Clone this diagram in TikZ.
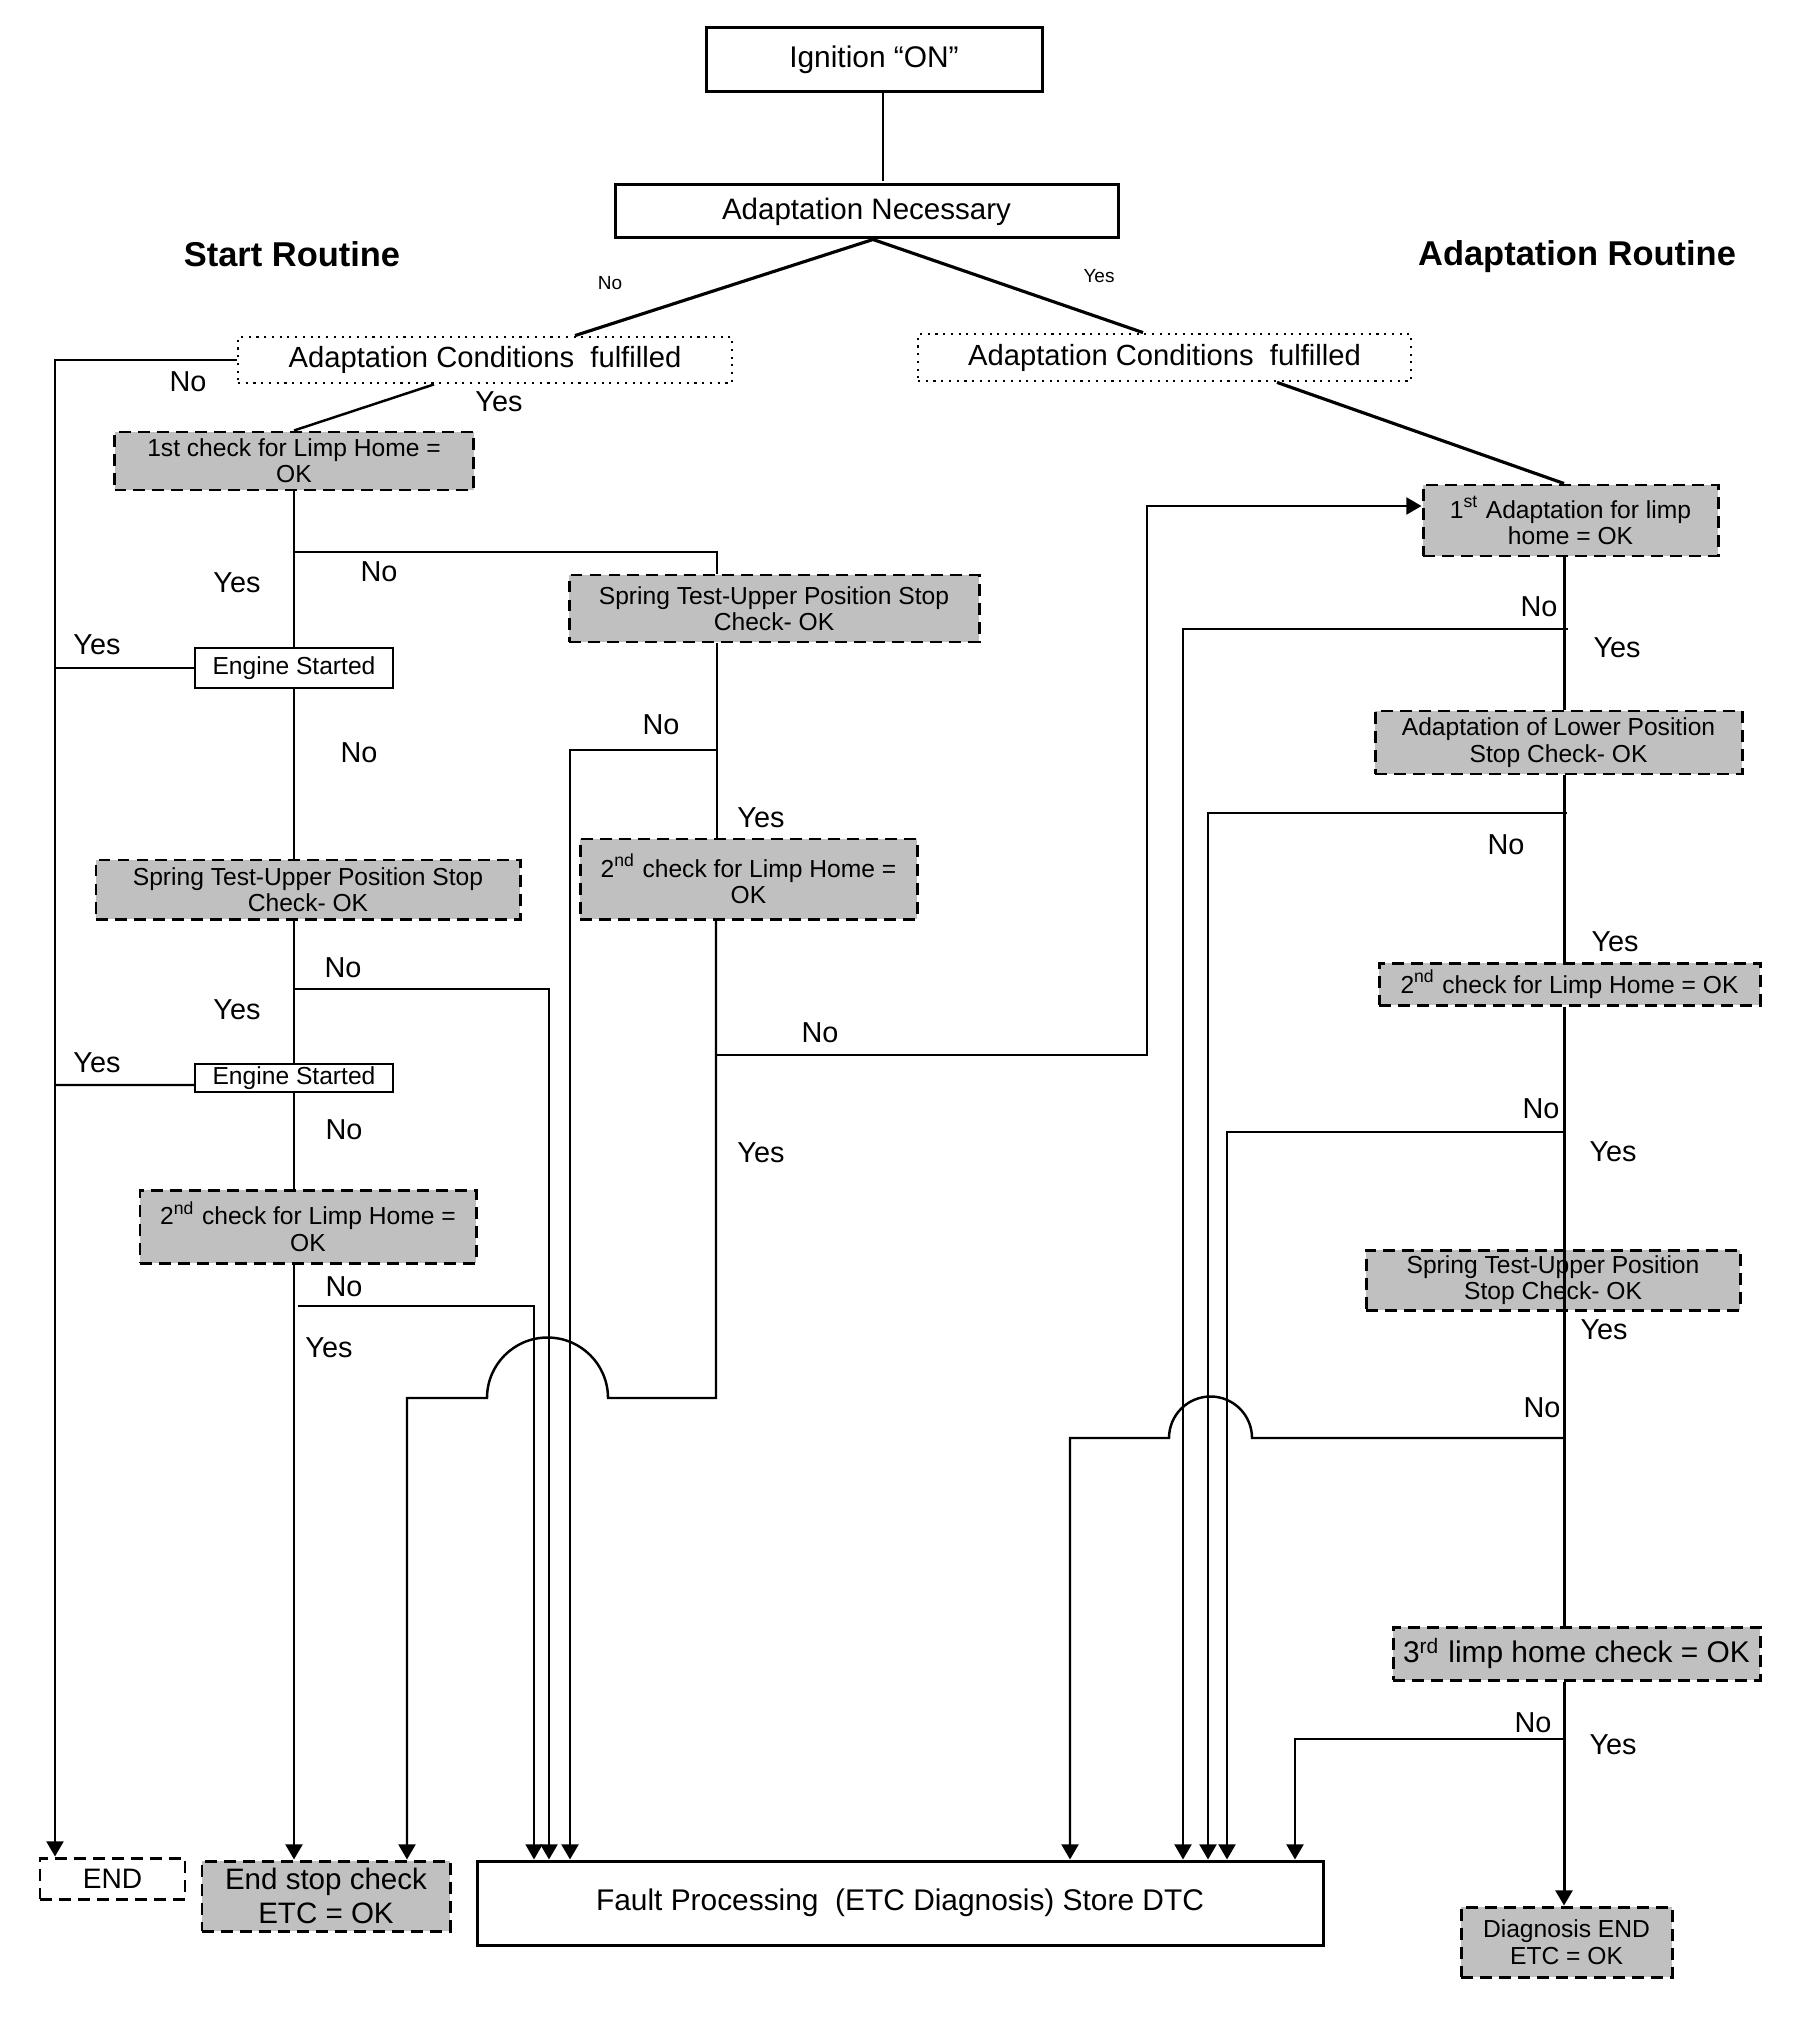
\documentclass[tikz,border=0pt]{standalone}
\usepackage{fontspec}
\setmainfont{Liberation Sans}
\usetikzlibrary{arrows.meta,calc}
\definecolor{boxgray}{HTML}{C0C0C0}
\newcommand\fsBig{\fontsize{8.5pt}{9pt}\selectfont}
\newcommand\fsAdn{\fontsize{8.4pt}{9pt}\selectfont}
\newcommand\fsCond{\fontsize{8.3pt}{9pt}\selectfont}
\newcommand\fsBox{\fontsize{7pt}{7.5pt}\selectfont}
\newcommand\fsEsc{\fontsize{8.4pt}{9.6pt}\selectfont}
\newcommand\fsEnd{\fontsize{8pt}{9pt}\selectfont}
\newcommand\fsLab{\fontsize{8.2pt}{9pt}\selectfont}
\newcommand\fsSmall{\fontsize{5.4pt}{6pt}\selectfont}
\newcommand\fsTitle{\fontsize{9.8pt}{11pt}\selectfont\bfseries}
\begin{document}
\begin{tikzpicture}[x=0.01cm,y=-0.01cm,
  wh/.style 2 args={minimum width=#1*0.01cm, minimum height=#2*0.01cm},
  basebox/.style={inner sep=0pt, align=center, text=black},
  solidbox/.style={basebox, draw, line width=0.85pt, fill=white},
  esbox/.style={basebox, draw, line width=0.7pt, fill=white, font=\fsBox},
  graybox/.style={basebox, draw, fill=boxgray, line width=0.85pt, dash pattern=on 3.4pt off 2pt, font=\fsBox},
  dashwhite/.style={basebox, draw, fill=white, line width=0.85pt, dash pattern=on 3.4pt off 2pt},
  dotbox/.style={basebox, draw, line width=0.8pt, dash pattern=on 0.6pt off 1.6pt},
  conn/.style={line width=0.7pt},
  thinc/.style={line width=0.5pt},
  diag/.style={line width=0.9pt},
  mainr/.style={line width=0.85pt},
  ignline/.style={line width=0.35pt},
  arr/.style={-{Triangle[width=4.8pt,length=4.3pt]}},
  lab/.style={inner sep=0pt, font=\fsLab},
  slab/.style={inner sep=0pt, font=\fsSmall}
]
\useasboundingbox (0,0) rectangle (1800,2040);

% ---------- rails ----------
\coordinate (r55) at (55,0);
\coordinate (r294) at (294,0);
\coordinate (r407) at (407,0);
\coordinate (r434) at (434,0);
\coordinate (r534) at (534,0);
\coordinate (r549) at (549,0);
\coordinate (r570) at (570,0);
\coordinate (r575) at (575,0);
\coordinate (r716) at (716,0);
\coordinate (r873) at (873,0);
\coordinate (r883) at (883,0);
\coordinate (r1070) at (1070,0);
\coordinate (r1143) at (1143,0);
\coordinate (r1147) at (1147,0);
\coordinate (r1183) at (1183,0);
\coordinate (r1208) at (1208,0);
\coordinate (r1227) at (1227,0);
\coordinate (r1277) at (1277,0);
\coordinate (r1295) at (1295,0);
\coordinate (r1564) at (1564,0);
\coordinate (y506) at (0,506);

% ---------- titles ----------
\node[font=\fsTitle, inner sep=0pt] (t1) at (292,254) {Start Routine};
\node[font=\fsTitle, inner sep=0pt] (t2) at (1577,257) {Adaptation Routine};

% ---------- boxes ----------
\node[solidbox, wh={336}{64}, font=\fsBig] (ign) at (874,60) {\raisebox{-1.2pt}{Ignition “ON”}};
\node[solidbox, wh={503}{53}, font=\fsAdn] (adn) at (866.5,211.5) {Adaptation Necessary};
\node[dotbox, wh={494}{46}, font=\fsCond] (acl) at (485,360) {Adaptation Conditions\ \ fulfilled};
\node[dotbox, wh={493}{47}, font=\fsCond] (acr) at (1164.5,357.5) {Adaptation Conditions\ \ fulfilled};

\node[graybox, wh={359}{58}] (chk1) at (294,461) {1st check for Limp Home =\\OK};
\node[esbox, wh={198}{40}] (es1) at (294,668) {Engine Started};
\node[graybox, wh={424}{59}] (spl) at (308,889.5) {Spring Test-Upper Position Stop\\Check- OK};
\node[esbox, wh={198}{28}] (es2) at (294,1078) {Engine Started};
\node[graybox, wh={336}{73}] (chk2l) at (308,1226.5) {2\textsuperscript{nd} check for Limp Home =\\OK};
\node[dashwhite, wh={145}{41}, font=\fsEnd] (endb) at (112.5,1878.5) {END};
\node[graybox, wh={248}{70}, font=\fsEsc] (esc) at (326,1896) {End stop check\\ETC = OK};
\node[solidbox, wh={846}{84}, font=\fsBig] (fault) at (900,1903) {Fault Processing\ \ (ETC Diagnosis) Store DTC};

\node[graybox, wh={410}{67}] (spm) at (774,608.5) {Spring Test-Upper Position Stop\\Check- OK};
\node[graybox, wh={337}{80}] (chk2m) at (748.5,879) {2\textsuperscript{nd} check for Limp Home =\\OK};

\node[graybox, wh={295}{71}] (ad1) at (1570.5,520.5) {1\textsuperscript{st} Adaptation for limp\\home = OK};
\node[graybox, wh={367}{63}] (alp) at (1558.5,742.5) {Adaptation of Lower Position\\Stop Check- OK};
\node[graybox, wh={381}{42}] (chk2r) at (1569.5,984) {2\textsuperscript{nd} check for Limp Home = OK};
\node[graybox, wh={374}{60}] (spr) at (1553,1280) {Spring Test-Upper Position\\Stop Check- OK};
\node[graybox, wh={367}{53}, font=\fsBig] (lh3) at (1576.5,1653.5) {3\textsuperscript{rd} limp home check = OK};
\node[graybox, wh={211}{70}] (dend) at (1566.5,1942) {Diagnosis END\\ETC = OK};

% ---------- top connectors ----------
\draw[ignline] (r883 |- ign.south) -- ++(0,88);
\coordinate (apex) at (r873 |- adn.south);
\draw[diag] (apex) -- (r575 |- acl.north);
\draw[diag] (apex) -- (r1143 |- acr.north);

% ---------- start routine ----------
\draw[conn] (r434 |- acl.south) -- (chk1.north);
\draw[conn,arr] (acl.west) -| (r55 |- endb.north);
\draw[conn] (chk1.south) -- (es1.north);
\draw[conn] (294,552) -| (717,0 |- spm.north);
\draw[conn] (es1.west) -- (r55 |- es1.west);
\draw[conn] (es1.south) -- (r294 |- spl.north);
\draw[conn] (r294 |- spl.south) -- (es2.north);
\draw[conn,arr] (294,989) -| (r549 |- fault.north);
\draw[conn] ([yshift=-0.07cm]es2.west) -- (55,1085);
\draw[conn] (es2.south) -- (r294 |- chk2l.north);
\draw[conn,arr] (r294 |- chk2l.south) -- (r294 |- esc.north);
\draw[thinc,arr] (298,1306) -| (r534 |- fault.north);

% middle branch
\draw[conn] (717,0 |- spm.south) -- (717,0 |- chk2m.north);
\draw[conn,arr] (717,750) -| (r570 |- fault.north);
\draw[conn,arr] (r716 |- chk2m.south) -- (716,1398) -- (608,1398)
  arc[start angle=0, end angle=-180, radius=60.5] -- (407,1398) -- (r407 |- esc.north);
\draw[conn,arr] (716,1055) -| (r1147 |- y506) -- (ad1.west |- y506);

% ---------- adaptation routine ----------
\draw[diag] (r1277 |- acr.south) -- (r1564 |- ad1.north);
\draw[mainr] (r1564 |- ad1.south) -- (r1564 |- alp.north);
\draw[conn,arr] (1568,629) -| (r1183 |- fault.north);
\draw[mainr] (r1564 |- alp.south) -- (r1564 |- chk2r.north);
\draw[conn,arr] (1567,813) -| (r1208 |- fault.north);
\draw[mainr] (r1564 |- chk2r.south) -- (r1564 |- lh3.north);
\draw[conn,arr] (1564,1132) -| (r1227 |- fault.north);
\draw[conn,arr] (1564,1438) -- (1252,1438)
  arc[start angle=0, end angle=-180, radius=41.5] -- (1070,1438) -- (r1070 |- fault.north);
\draw[mainr,arr] (r1564 |- lh3.south) -- (r1564 |- dend.north);
\draw[conn,arr] (1564,1739) -| (r1295 |- fault.north);

% ---------- labels ----------
\node[slab] (s1) at (610,283) {No};
\node[slab] (s2) at (1099,276) {Yes};
\node[lab] (l1) at (188,382) {No};
\node[lab] (l2) at (499,402) {Yes};
\node[lab] (l3) at (237,583) {Yes};
\node[lab] (l4) at (379,572) {No};
\node[lab] (l5) at (97,645) {Yes};
\node[lab] (l6) at (359,753) {No};
\node[lab] (l7) at (343,968) {No};
\node[lab] (l8) at (237,1010) {Yes};
\node[lab] (l9) at (97,1063) {Yes};
\node[lab] (l10) at (344,1130) {No};
\node[lab] (l11) at (344,1287) {No};
\node[lab] (l12) at (329,1348) {Yes};
\node[lab] (l13) at (661,725) {No};
\node[lab] (l14) at (761,818) {Yes};
\node[lab] (l15) at (820,1033) {No};
\node[lab] (l16) at (761,1153) {Yes};
\node[lab] (l17) at (1539,607) {No};
\node[lab] (l18) at (1617,648) {Yes};
\node[lab] (l19) at (1506,845) {No};
\node[lab] (l20) at (1615,942) {Yes};
\node[lab] (l21) at (1541,1109) {No};
\node[lab] (l22) at (1613,1152) {Yes};
\node[lab] (l23) at (1604,1330) {Yes};
\node[lab] (l24) at (1542,1408) {No};
\node[lab] (l25) at (1533,1723) {No};
\node[lab] (l26) at (1613,1745) {Yes};
\end{tikzpicture}
\end{document}
